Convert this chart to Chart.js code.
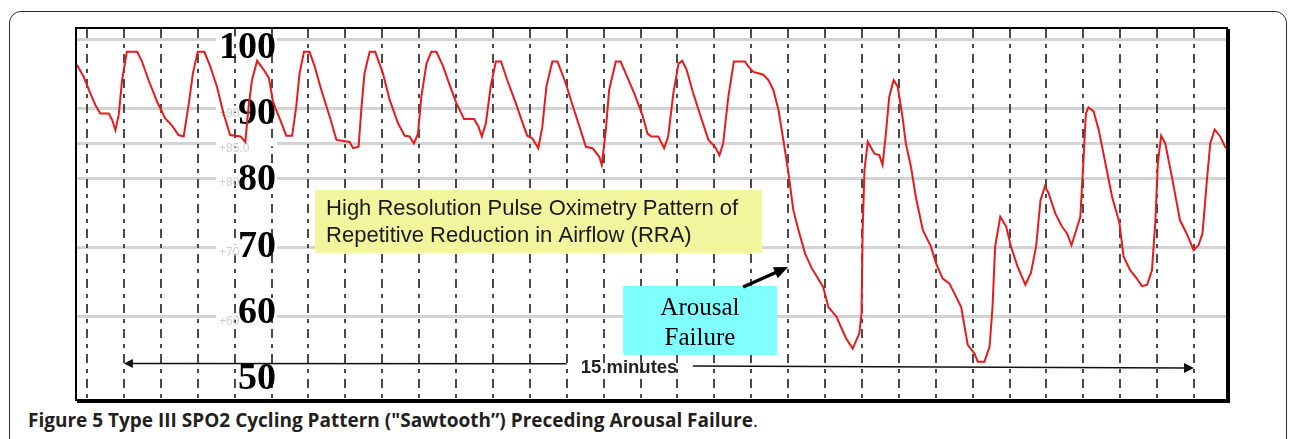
<!DOCTYPE html>
<html>
<head>
<meta charset="utf-8">
<script src="https://cdn.jsdelivr.net/npm/chart.js@4.4.0/dist/chart.umd.min.js"></script>
<style>
  html, body { margin: 0; padding: 0; background: #fff; width: 1290px; height: 439px; overflow: hidden; }
  .frame { position: absolute; left: 9px; top: 11px; width: 1276px; height: 470px; border: 1.5px solid #2b2b2b; border-radius: 12px; }
  .plot { position: absolute; left: 75px; top: 27px; width: 1149px; height: 370px; border: 2px solid #000; box-shadow: 2px 2px 0 #000; }
  .plot canvas { display: block; }
  .caption { position: absolute; left: 28px; top: 407px; font-family: "Open Sans"; font-size: 19px; line-height: 26px; color: #231f20; white-space: nowrap; }
</style>
</head>
<body>
<div class="frame"></div>
<div class="plot"><canvas id="spo2Chart" width="1149" height="370"></canvas></div>
<div class="caption"><b>Figure 5 Type III SPO2 Cycling Pattern ("Sawtooth”) Preceding Arousal Failure</b>.</div>
<script>
// time axis in ~30 s epochs (one dashed line per epoch), SpO2 in %
const epochs = [
  -0.27, -0.09, 0.09, 0.23, 0.36, 0.59, 0.68, 0.77, 0.86, 0.95, 1.08, 1.36, 1.49, 1.67, 1.90, 2.12, 2.30, 2.48, 2.62, 2.76,
  2.87, 3.00, 3.18, 3.34, 3.52, 3.70, 3.88, 4.16, 4.29, 4.38, 4.47, 4.61, 4.79, 4.93, 5.04, 5.22, 5.40, 5.56, 5.67, 5.76,
  5.88, 6.03, 6.17, 6.35, 6.58, 6.76, 7.12, 7.21, 7.36, 7.44, 7.52, 7.66, 7.81, 8.02, 8.20, 8.43, 8.61, 8.74, 8.86, 8.97,
  9.06, 9.20, 9.33, 9.47, 9.65, 9.83, 10.01, 10.22, 10.49, 10.61, 10.70, 10.81, 10.94, 11.08, 11.22, 11.39, 11.62, 11.84, 11.93, 12.07,
  12.23, 12.34, 12.45, 12.61, 12.75, 12.97, 13.20, 13.43, 13.52, 13.70, 13.88, 13.95, 14.06, 14.15, 14.33, 14.46, 14.64, 14.83, 15.05, 15.19,
  15.29, 15.48, 15.64, 15.75, 15.89, 16.03, 16.13, 16.25, 16.43, 16.66, 16.84, 17.02, 17.14, 17.24, 17.38, 17.53, 17.83, 17.92, 18.06, 18.33,
  18.47, 18.60, 18.74, 18.87, 19.01, 19.14, 19.28, 19.46, 19.64, 19.95, 20.09, 20.31, 20.45, 20.57, 20.75, 20.93, 20.99, 21.02, 21.07, 21.16,
  21.34, 21.47, 21.56, 21.65, 21.74, 21.86, 21.97, 22.10, 22.19, 22.33, 22.46, 22.65, 22.87, 23.01, 23.19, 23.37, 23.55, 23.69, 23.87, 24.05,
  24.14, 24.32, 24.46, 24.54, 24.61, 24.75, 24.91, 25.04, 25.22, 25.43, 25.58, 25.72, 25.84, 25.96, 26.06, 26.24, 26.42, 26.56, 26.68, 26.78,
  26.92, 27.01, 27.07, 27.14, 27.28, 27.42, 27.60, 27.78, 27.98, 28.09, 28.27, 28.45, 28.59, 28.73, 28.86, 28.95, 29.02, 29.11, 29.22, 29.40,
  29.62, 29.80, 29.99, 30.12, 30.23, 30.35, 30.44, 30.56, 30.71, 30.86
];
const spo2 = [
  96.3, 94.6, 92.2, 90.5, 89.3, 89.3, 88.4, 86.9, 89.1, 94.1, 98.2, 98.2, 96.8, 94.1, 91.0, 88.6, 87.6, 86.2, 86.0, 90.8,
  95.1, 98.2, 98.2, 96.1, 93.2, 89.3, 86.2, 86.0, 85.2, 90.3, 94.1, 96.9, 95.6, 94.4, 91.0, 88.6, 86.1, 86.1, 90.3, 95.1,
  98.2, 98.2, 96.1, 92.7, 88.8, 85.5, 85.2, 84.3, 84.5, 90.3, 95.1, 98.2, 98.2, 95.1, 91.3, 87.9, 86.1, 86.0, 85.0, 86.4,
  91.7, 96.5, 98.2, 98.2, 96.1, 93.4, 90.8, 88.5, 88.5, 87.4, 86.0, 87.9, 93.2, 96.8, 96.8, 94.1, 90.8, 87.4, 86.1, 85.7,
  84.3, 87.4, 93.2, 96.8, 96.8, 93.7, 89.8, 86.0, 84.5, 84.3, 83.1, 81.9, 86.9, 92.7, 96.8, 96.8, 94.6, 92.2, 89.1, 86.4,
  86.0, 86.0, 84.3, 86.0, 92.2, 96.5, 96.9, 95.6, 92.2, 88.4, 85.5, 84.5, 83.3, 85.0, 91.7, 96.8, 96.8, 96.1, 95.3, 94.9,
  94.1, 92.7, 89.8, 85.5, 80.7, 75.4, 72.5, 69.1, 67.0, 64.3, 61.4, 60.0, 58.3, 56.9, 55.4, 57.6, 60.5, 72.5, 81.2, 85.2,
  83.5, 83.3, 81.9, 86.4, 91.7, 94.1, 93.2, 88.8, 85.0, 81.6, 77.3, 72.5, 70.1, 67.7, 65.5, 64.8, 62.9, 61.4, 55.9, 54.7,
  53.5, 53.5, 55.7, 61.4, 70.1, 74.4, 73.0, 70.1, 67.2, 64.6, 66.3, 70.1, 76.8, 78.8, 77.8, 74.9, 73.0, 72.0, 70.3, 72.0,
  74.4, 83.1, 89.3, 90.2, 89.6, 86.9, 82.1, 77.3, 73.5, 68.7, 66.7, 65.5, 64.4, 64.6, 66.7, 73.5, 82.1, 86.1, 85.0, 80.2,
  73.9, 72.0, 69.6, 70.3, 72.0, 79.7, 85.0, 87.0, 86.0, 84.3
];

const epochTicks = [0, 1, 2, 3, 4, 5, 6, 7, 8, 9, 10, 11, 12, 13, 14, 15, 16, 17, 18, 19, 20, 21, 22, 23, 24, 25, 26, 27, 28, 29, 30];
const gridValues = [60, 70, 80, 85, 90, 100];
const labelValues = [100, 90, 80, 70, 60, 50];
const faintValues = [90, 85, 80, 70, 60];
const faintLabels = ['+90', '+85.0', '+80', '+70', '+60'];

const rraText = ['High Resolution Pulse Oximetry Pattern of', 'Repetitive Reduction in Airflow (RRA)'];
const arousalText = ['Arousal', 'Failure'];
const spanText = '15 minutes';

function arrowHead(ctx, x1, y1, x2, y2, len, half) {
  const a = Math.atan2(y2 - y1, x2 - x1);
  ctx.beginPath();
  ctx.moveTo(x2, y2);
  ctx.lineTo(x2 - len * Math.cos(a) + half * Math.sin(a), y2 - len * Math.sin(a) - half * Math.cos(a));
  ctx.lineTo(x2 - len * Math.cos(a) - half * Math.sin(a), y2 - len * Math.sin(a) + half * Math.cos(a));
  ctx.closePath();
  ctx.fill();
}

const overlay = {
  id: 'overlay',
  beforeDatasetsDraw(chart) {
    const { ctx, scales: { x, y, yl } } = chart;
    ctx.save();
    // gaps in the grey lines where the big numbers sit
    ctx.fillStyle = '#fff';
    const gx0 = x.getPixelForValue(3.5), gx1 = x.getPixelForValue(5.15);
    gridValues.forEach(v => ctx.fillRect(gx0, y.getPixelForValue(v) - 3, gx1 - gx0, 6));
    // faint monitor labels
    ctx.fillStyle = '#cdcdcd';
    ctx.font = '12px "Liberation Sans Narrow", "Liberation Sans"';
    ctx.textAlign = 'left';
    ctx.textBaseline = 'middle';
    faintValues.forEach((v, i) => ctx.fillText(faintLabels[i], x.getPixelForValue(3.58), y.getPixelForValue(v) + 5));
    // big pasted numbers
    ctx.fillStyle = '#000';
    ctx.font = 'bold 38px "Liberation Serif"';
    ctx.textAlign = 'right';
    ctx.textBaseline = 'alphabetic';
    labelValues.forEach(v => ctx.fillText(String(v), x.getPixelForValue(5.12), yl.getPixelForValue(v) + 12.5));
    ctx.restore();
  },
  afterDatasetsDraw(chart) {
    const { ctx, scales: { x, y } } = chart;
    ctx.save();
    // yellow note
    let bx = x.getPixelForValue(6.18), by = y.getPixelForValue(78.27);
    ctx.fillStyle = '#f3f59e';
    ctx.fillRect(bx, by, x.getPixelForValue(18.29) - bx, y.getPixelForValue(69.19) - by);
    ctx.fillStyle = '#1a1a1a';
    ctx.font = '22px "Liberation Sans"';
    ctx.textAlign = 'left';
    ctx.fillText(rraText[0], x.getPixelForValue(6.48), y.getPixelForValue(74.67));
    ctx.fillText(rraText[1], x.getPixelForValue(6.48), y.getPixelForValue(70.77));

    // cyan note
    bx = x.getPixelForValue(14.53); by = y.getPixelForValue(64.43);
    ctx.fillStyle = '#80ffff';
    ctx.fillRect(bx, by, x.getPixelForValue(18.70) - bx, y.getPixelForValue(54.48) - by);
    ctx.fillStyle = '#000';
    ctx.font = '25px "Liberation Serif"';
    ctx.textAlign = 'center';
    ctx.fillText(arousalText[0], x.getPixelForValue(16.61), y.getPixelForValue(60.27));
    ctx.fillText(arousalText[1], x.getPixelForValue(16.61), y.getPixelForValue(55.92));

    // pointer to the failed arousal
    const ax1 = x.getPixelForValue(17.78), ay1 = y.getPixelForValue(64.28);
    const ax2 = x.getPixelForValue(19.0), ay2 = y.getPixelForValue(67.17);
    ctx.strokeStyle = '#000';
    ctx.lineWidth = 3.5;
    ctx.beginPath();
    ctx.moveTo(ax1, ay1);
    ctx.lineTo(ax1 + (ax2 - ax1) * 0.75, ay1 + (ay2 - ay1) * 0.75);
    ctx.stroke();
    arrowHead(ctx, ax1, ay1, ax2, ay2, 14, 6);

    // 15 minute span
    ctx.strokeStyle = '#111';
    ctx.fillStyle = '#111';
    ctx.lineWidth = 1.5;
    const lx1 = x.getPixelForValue(1.0), ly1 = y.getPixelForValue(53.25);
    const lx2 = x.getPixelForValue(13.0), ly2 = y.getPixelForValue(53.2);
    const rx1 = x.getPixelForValue(16.42), ry1 = y.getPixelForValue(52.9);
    const rx2 = x.getPixelForValue(30.0), ry2 = y.getPixelForValue(52.6);
    ctx.beginPath();
    ctx.moveTo(lx2, ly2); ctx.lineTo(lx1 + 6, ly1);
    ctx.moveTo(rx1, ry1); ctx.lineTo(rx2 - 6, ry2);
    ctx.stroke();
    arrowHead(ctx, lx2, ly2, lx1, ly1, 9, 4.5);
    arrowHead(ctx, rx1, ry1, rx2, ry2, 10, 5);
    ctx.fillStyle = '#222';
    ctx.font = 'bold 18.5px "Liberation Sans"';
    ctx.textAlign = 'center';
    ctx.fillText(spanText, x.getPixelForValue(14.69), y.getPixelForValue(51.88));
    ctx.restore();
  }
};

new Chart(document.getElementById('spo2Chart'), {
  type: 'line',
  data: {
    datasets: [{
      data: epochs.map((e, i) => ({ x: e, y: spo2[i] })),
      borderColor: '#e81a1a',
      borderWidth: 2,
      pointRadius: 0,
      tension: 0,
      fill: false
    }]
  },
  options: {
    responsive: false,
    animation: false,
    devicePixelRatio: 1,
    layout: { padding: 0 },
    plugins: { legend: { display: false }, tooltip: { enabled: false } },
    scales: {
      y: {
        type: 'linear',
        position: 'left',
        min: 48.13,
        max: 101.49,
        afterBuildTicks: axis => { axis.ticks = gridValues.map(v => ({ value: v })); },
        ticks: { display: false },
        grid: { color: '#d3d3d3', lineWidth: 3, drawTicks: false },
        border: { display: false }
      },
      yl: {
        type: 'linear',
        position: 'left',
        display: false,
        min: 46.54,
        max: 102.55
      },
      x: {
        type: 'linear',
        position: 'bottom',
        min: -0.271,
        max: 30.867,
        afterBuildTicks: axis => { axis.ticks = epochTicks.map(v => ({ value: v })); },
        ticks: { display: false },
        grid: { color: '#4a4a4a', lineWidth: 2, drawTicks: false },
        border: { display: false, dash: [9, 6, 4, 6] }
      }
    }
  },
  plugins: [overlay]
});
</script>
</body>
</html>
